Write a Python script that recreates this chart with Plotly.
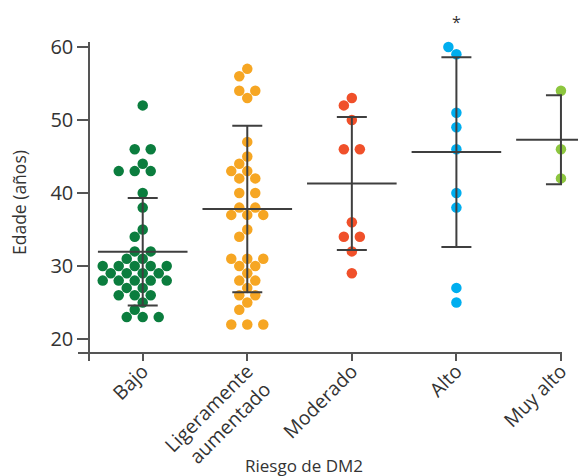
import plotly.graph_objects as go

# ---------------- data ----------------
categories = ["Bajo", "Ligeramente<br>aumentado", "Moderado", "Alto", "Muy alto"]

bajo = [52, 46, 46, 44, 43, 43, 43, 40, 38, 35, 34, 32, 32, 31, 31,
        30, 30, 30, 30, 30, 29, 29, 29, 29, 28, 28, 28, 28, 28,
        27, 27, 26, 26, 26, 25, 24, 23, 23, 23]
ligeramente = [57, 56, 54, 54, 53, 47, 45, 44, 43, 43, 42, 42, 40, 40,
               38, 38, 37, 37, 37, 35, 34, 31, 31, 31, 30, 30, 29, 28, 28,
               27, 26, 26, 25, 24, 22, 22, 22]
moderado = [53, 52, 50, 46, 46, 36, 34, 34, 32, 29]
alto = [61, 60, 59, 51, 49, 46, 40, 38, 27, 25]
muy_alto = [54, 46, 42]

group_values = [bajo, ligeramente, moderado, alto, muy_alto]
means = [31.95, 37.8, 41.3, 45.6, 47.3]
sds = [7.35, 11.4, 9.1, 13.0, 6.1]

y_ticks = [20, 30, 40, 50, 60]
colors = ["#0b7d3e", "#f6a623", "#f0502a", "#00aeef", "#8dc63f"]

# ---------------- layout geometry ----------------
# the page body has an 8px margin, so the figure is drawn 8px in from the
# window's top-left corner; geometry below is in window pixels.
OFF = 8
W, H = 586 - OFF, 476 - OFF
P_LEFT, P_RIGHT, P_TOP, P_BOTTOM = 78, 562, 42, 361   # plot area (window px)
ML, MT = P_LEFT - OFF, P_TOP - OFF
MR, MB = W - (P_RIGHT - OFF), H - (P_BOTTOM - OFF)
PW, PH = P_RIGHT - P_LEFT, P_BOTTOM - P_TOP
x_range = [-0.619, 4.01]
y_range = [16.99, 60.68]
px_x = PW / (x_range[1] - x_range[0])
px_y = PH / (y_range[1] - y_range[0])


def paper_x(px):
    return (px - P_LEFT) / PW


def paper_y(py):
    return (P_BOTTOM - py) / PH


AX = "#555555"
TXT = "#333333"
FONT = "Open Sans"


def swarm(vals, d_same=16.0, d_min=10.6, step=8.0):
    """Simple beeswarm: rows of equal values spread at d_same px,
    shifted sideways (in step px) to avoid overlapping earlier rows."""
    vals = list(vals)
    offs = [0.0] * len(vals)
    placed = []
    uniq = sorted(set(vals), reverse=True)
    for v in uniq:
        idx = [i for i, w in enumerate(vals) if w == v]
        n = len(idx)
        row = [(k - (n - 1) / 2) * d_same for k in range(n)]
        yp = v * px_y
        bases = [0.0]
        for k in range(1, 20):
            bases += [-k * step, k * step]
        for b in bases:
            ok = True
            for r in row:
                for (qx, qy) in placed:
                    if (r + b - qx) ** 2 + (yp - qy) ** 2 < d_min ** 2:
                        ok = False
                        break
                if not ok:
                    break
            if ok:
                break
        for r, i in zip(row, idx):
            offs[i] = r + b
            placed.append((r + b, yp))
    return offs


fig = go.Figure()

for gi, vals in enumerate(group_values):
    offs = swarm(vals)
    xs = [gi + o / px_x for o in offs]
    fig.add_trace(go.Scatter(
        x=xs, y=vals, mode="markers", cliponaxis=False,
        marker=dict(size=10.5, color=colors[gi], line=dict(width=0)),
        hoverinfo="y", showlegend=False))

# mean +/- SD
fig.add_trace(go.Scatter(
    x=list(range(len(categories))), y=means, mode="markers", cliponaxis=False,
    marker=dict(symbol="line-ew", size=64, color="#3f3f3f",
                line=dict(width=2, color="#3f3f3f")),
    error_y=dict(type="data", array=sds, visible=True, width=15,
                 thickness=2, color="#3f3f3f"),
    showlegend=False, hoverinfo="skip"))

fig.update_layout(
    template="none",
    width=W, height=H,
    margin=dict(l=ML, r=MR, t=MT, b=MB, autoexpand=False),
    paper_bgcolor="white", plot_bgcolor="white",
    font=dict(family=FONT, color=TXT, size=16),
    showlegend=False,
    xaxis=dict(
        range=x_range, anchor="free", position=paper_y(352.5),
        automargin=False,
        tickvals=list(range(len(categories))), ticktext=categories,
        tickangle=-45, ticks="outside", ticklen=8, tickwidth=1.5, tickcolor=AX,
        ticklabelstandoff=-9,
        showline=True, linecolor=AX, linewidth=1.5,
        showgrid=False, zeroline=False,
        tickfont=dict(family=FONT, size=19.5, color=TXT)),
    yaxis=dict(
        range=y_range, anchor="free", position=paper_x(89),
        automargin=False,
        tickvals=y_ticks, ticks="outside", ticklen=11, tickwidth=1.5, tickcolor=AX,
        showline=True, linecolor=AX, linewidth=1.5,
        showgrid=False, zeroline=False,
        tickfont=dict(family=FONT, size=20, color=TXT)),
    annotations=[
        dict(text="Riesgo de DM2", xref="paper", yref="paper",
             x=paper_x(304), y=paper_y(465), showarrow=False,
             xanchor="center", yanchor="middle",
             font=dict(family=FONT, size=17, color=TXT)),
        dict(text="Edade (años)", xref="paper", yref="paper",
             x=paper_x(19), y=paper_y(203), showarrow=False,
             textangle=-90, xanchor="center", yanchor="middle",
             font=dict(family=FONT, size=17.5, color=TXT)),
        dict(text="*", xref="x", yref="paper", x=3,
             y=paper_y(9), showarrow=False,
             xanchor="center", yanchor="top",
             font=dict(family=FONT, size=16, color=TXT)),
    ],
)

fig.write_html("out.html")
